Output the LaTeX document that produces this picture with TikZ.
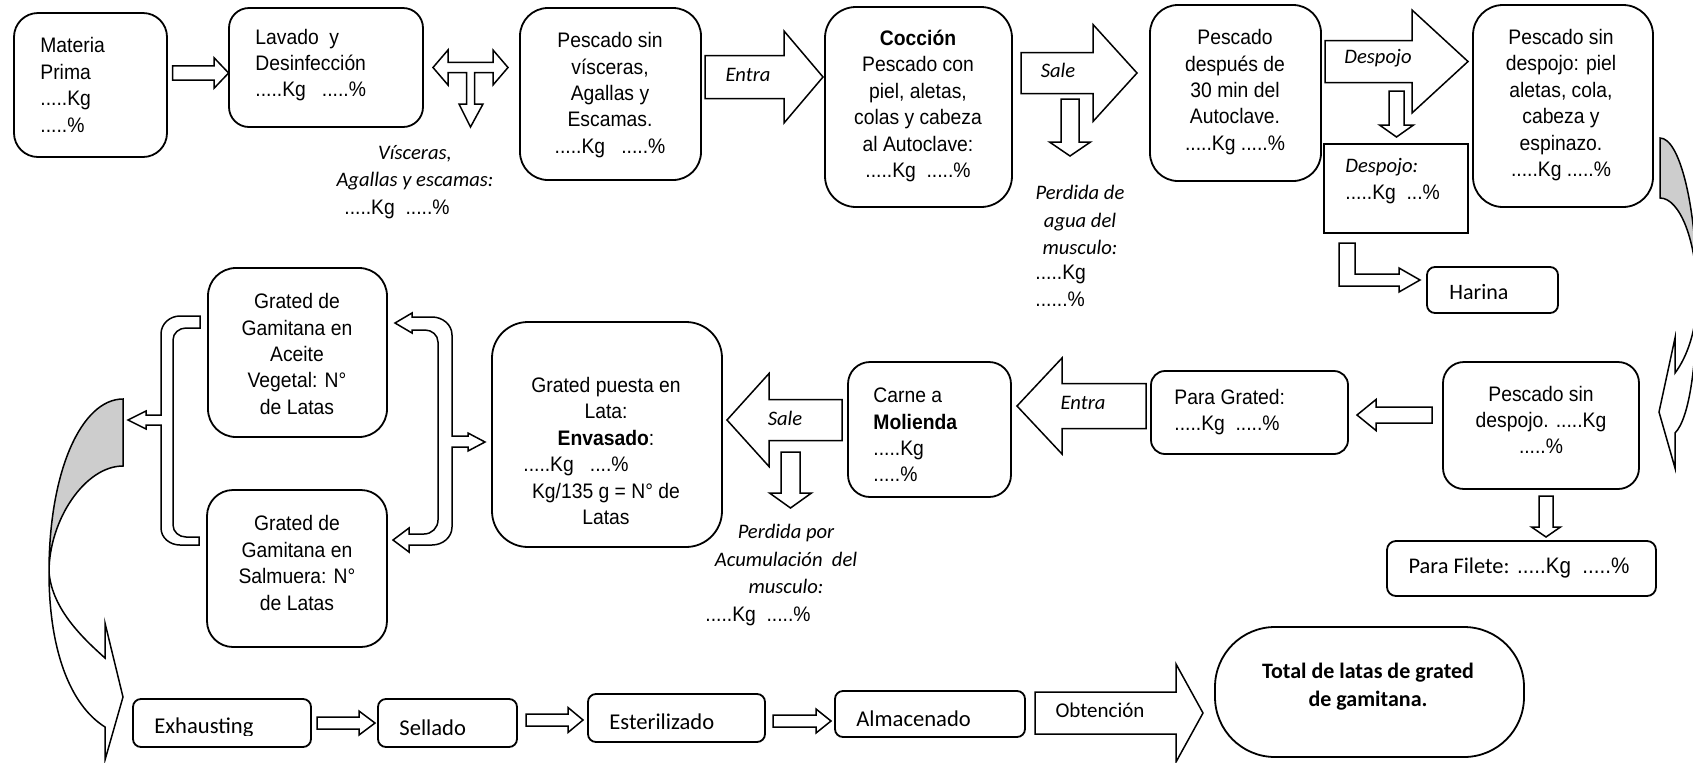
\documentclass[tikz,border=0pt]{standalone}
\usepackage{fontspec}
\setmainfont{Liberation Sans}[FakeStretch=0.92]
\newfontfamily\calib{Carlito}
\usetikzlibrary{fit}
\definecolor{shade}{RGB}{205,205,205}

% straight block arrows
% right: tail x, tip x, centre y, shaft half, head half, head length
\newcommand\arrR[6]{\draw[blk] (#1,#3-#4) -- (#2-#6,#3-#4) -- (#2-#6,#3-#5) -- (#2,#3) -- (#2-#6,#3+#5) -- (#2-#6,#3+#4) -- (#1,#3+#4) -- cycle;}
% left: tail x, tip x, centre y, shaft half, head half, head length
\newcommand\arrL[6]{\draw[blk] (#1,#3-#4) -- (#2+#6,#3-#4) -- (#2+#6,#3-#5) -- (#2,#3) -- (#2+#6,#3+#5) -- (#2+#6,#3+#4) -- (#1,#3+#4) -- cycle;}
% down: tail y, tip y, centre x, shaft half, head half, head length
\newcommand\arrD[6]{\draw[blk] (#3-#4,#1) -- (#3-#4,#2-#6) -- (#3-#5,#2-#6) -- (#3,#2) -- (#3+#5,#2-#6) -- (#3+#4,#2-#6) -- (#3+#4,#1) -- cycle;}
\newcommand\mainf{\rmfamily\upshape\fontsize{10.5}{13.7}\selectfont}

\begin{document}
\begin{tikzpicture}[x=0.5pt,y=-0.5pt,
  box/.style={draw, line width=0.9pt, inner sep=0pt, outer sep=0pt},
  rbox/.style={box, rounded corners=#1},
  blk/.style={draw, line width=0.75pt, fill=white, line join=miter},
  tx/.style={inner sep=0pt, align=center, font=\fontsize{10.5}{13.2}\selectfont},
  txl/.style={tx, align=left, anchor=west},
  it/.style={inner sep=0pt, align=center, font=\calib\itshape\fontsize{10.3}{13.7}\selectfont},
  cb/.style={inner sep=0pt, align=left, anchor=west, font=\calib\fontsize{11.3}{13.5}\selectfont}]
\useasboundingbox (0,0) rectangle (1693,762);

% ---------- boxes ----------
\node[rbox=12pt, fit={(14,13) (167,157)}] (mp) {};
\node[rbox=10pt, fit={(229,8) (423,127)}] (lav) {};
\node[rbox=14pt, fit={(520,8) (701,180)}] (psv) {};
\node[rbox=15.5pt, fit={(825,7) (1012,207)}] (coc) {};
\node[rbox=14pt, fit={(1150,5) (1321,181)}] (pda) {};
\node[box, fit={(1324,144) (1468,233)}] (desp) {};
\node[rbox=15pt, fit={(1473,5) (1653,207)}] (psd) {};
\node[rbox=4pt, fit={(1427,267) (1558,313)}] (har) {};
\node[rbox=14pt, fit={(208,268) (387,437)}] (gac) {};
\node[rbox=13pt, fit={(207,490) (387,647)}] (gsa) {};
\node[rbox=18pt, fit={(492,322) (722,547)}] (gpl) {};
\node[rbox=11pt, fit={(848,362) (1011,497)}] (car) {};
\node[rbox=7pt, fit={(1151,371) (1348,454)}] (pgr) {};
\node[rbox=10.5pt, fit={(1443,362) (1639,489)}] (psd2) {};
\node[rbox=4.5pt, fit={(1387,541) (1656,596)}] (pfi) {};
\node[rbox=4pt, fit={(133,699) (311,747)}] (exh) {};
\node[rbox=4pt, fit={(378,699) (517,747)}] (sel) {};
\node[rbox=4pt, fit={(588,694) (765,742)}] (est) {};
\node[rbox=4pt, fit={(835,691) (1025,737)}] (alm) {};
\node[rbox=30pt, fit={(1215,627) (1524,757)}] (tot) {};

% ---------- box texts ----------
\node[txl] (mp-t) at (40,85) {Materia\\Prima\\.....Kg\\.....\%};
\node[txl] (lav-t) at (255,65) {Lavado\ \ y\\Desinfección\\.....Kg\ \ \ .....\%};
\node[tx] (psv-t) at (610,95) {Pescado sin\\vísceras,\\Agallas y\\Escamas.\\.....Kg\ \ \ .....\%};
\node[tx] (coc-t) at (918,106) {\textbf{Cocción}\\Pescado con\\piel, aletas,\\colas y cabeza\\al Autoclave:\\.....Kg\ \ .....\%};
\node[tx] (pda-t) at (1235,92) {Pescado\\después de\\30 min del\\Autoclave.\\.....Kg .....\%};
\node[txl] (desp-t) at (1345,181) {{\calib\itshape\fontsize{10.3}{13}\selectfont Despojo:}\\.....Kg\ \ ...\%};
\node[tx] (psd-t) at (1561,105) {Pescado sin\\despojo: piel\\aletas, cola,\\cabeza y\\espinazo.\\.....Kg .....\%};
\node[inner sep=0pt, font=\calib\fontsize{11}{13}\selectfont] (har-t) at (1479,292) {Harina};
\node[tx] (gac-t) at (297,354) {Grated de\\Gamitana en\\Aceite\\Vegetal: N°\\de Latas};
\node[tx] (gsa-t) at (297,563) {Grated de\\Gamitana en\\Salmuera: N°\\de Latas};
\node[tx] (gpl-t) at (606,451) {Grated puesta en\\Lata:\\\textbf{Envasado}:\\\hspace*{-30pt}.....Kg\ \ \ ....\%\\Kg/135 g = N° de\\Latas};
\node[txl] (car-t) at (873,435) {Carne a\\\textbf{Molienda}\\.....Kg\\.....\%};
\node[txl] (pgr-t) at (1174,412) {Para Grated:\\.....Kg\ \ .....\%};
\node[tx] (psd2-t) at (1541,420) {Pescado sin\\despojo. .....Kg\\.....\%};
\node[inner sep=0pt, font=\fontsize{11.2}{13}\selectfont] (pfi-t) at (1519,568) {{\calib Para Filete:} .....Kg\ \ .....\%};
\begin{scope}
  \clip (133,699) rectangle (311,735);
  \node[cb] (exh-t) at (154,728) {Exhausting};
\end{scope}
\node[cb] (sel-t) at (399,728) {Sellado};
\node[cb] (est-t) at (609,722) {Esterilizado};
\node[cb] (alm-t) at (856,719) {Almacenado};
\node[inner sep=0pt, align=center, font=\calib\bfseries\fontsize{11}{14}\selectfont] (tot-t) at (1368,687) {Total de latas de grated\\de gamitana.};

% ---------- straight block arrows ----------
\arrR{172.5}{228.6}{73}{7.2}{15.3}{14.6}
\arrR{705}{823}{77}{21.5}{46}{39}
\arrR{1021}{1137}{73}{20.5}{48.5}{44}
\arrR{1325}{1468}{61.5}{21}{51.5}{56}
\arrL{1146}{1017}{406}{22.5}{48}{45}
\arrL{842}{727}{420}{20.5}{46.5}{42}
\arrL{1432}{1357}{415}{8}{15.5}{19}
\arrR{317}{375}{723}{6}{12}{16}
\arrR{526}{583}{720}{6}{12.5}{15}
\arrR{773}{831}{721}{6}{12}{15}
\arrR{1035}{1203}{713}{21}{49}{27}
\arrD{99}{156}{1070}{9}{20.5}{14}
\arrD{91}{137}{1396.5}{7.5}{17}{12}
\arrD{452}{508}{790.5}{9.5}{21}{15}
\arrD{496}{537}{1546}{7}{14.5}{10}

% three-way arrow after washing
\draw[blk] (433,67.5) -- (448,50) -- (448,62.3) -- (493,62.3) -- (493,50) -- (508,67.5)
  -- (493,85) -- (493,72.7) -- (474.5,72.7) -- (474.5,104) -- (483,104) -- (470.5,127)
  -- (459,104) -- (466.5,104) -- (466.5,72.7) -- (448,72.7) -- (448,85) -- cycle;

% bent arrow towards Harina
\draw[blk] (1339,243) -- (1339,286) -- (1399,286) -- (1399,292) -- (1420,280) -- (1399,268)
  -- (1399,274) -- (1355,274) -- (1355,243) -- cycle;

% bracket on the left of the two can types
\draw[blk] (200,316) -- (180,316) to[out=180,in=90] (161,334) -- (161,415) -- (146,415)
  -- (146,411) -- (128,420) -- (146,429) -- (146,425) -- (161,425) -- (161,528)
  to[out=-90,in=180] (180,545) -- (199,545) -- (199,537) -- (186,537)
  to[out=180,in=-90] (173,525) -- (173,340) to[out=90,in=180] (186,328) -- (200,328) -- cycle;

% bracket on the right of the two can types
\draw[blk] (395,323) -- (412,313) -- (412,317) -- (432,317) to[out=0,in=90] (452,335)
  -- (452,436) -- (468,436) -- (468,433) -- (485,442) -- (468,451) -- (468,447) -- (452,447)
  -- (452,527) to[out=-90,in=0] (432,545) -- (409,545) -- (409,552) -- (393,540) -- (409,528)
  -- (409,534) -- (424,534) to[out=0,in=-90] (438,520) -- (438,342) to[out=90,in=0] (425,330)
  -- (412,330) -- (412,333) -- cycle;

% curved arrow, left side
\coordinate (lT1) at (123,399); \coordinate (lT2) at (123,466); \coordinate (lL) at (49,572);
\filldraw[blk, fill=shade] (lT1) .. controls (82,399) and (49,470) .. (lL)
  .. controls (49,520) and (85,466) .. (lT2) -- cycle;
\draw[blk] (lL) .. controls (52,610) and (85,640) .. (105,658) -- (105,623) -- (123,697)
  -- (105,760) -- (105,727) .. controls (70,705) and (49,650) .. (lL) -- cycle;

% curved arrow, right side
\begin{scope}
  \clip (0,0) rectangle (1693,762);
  \coordinate (rT1) at (1660,138); \coordinate (rT2) at (1660,198); \coordinate (rL) at (1697,295);
  \filldraw[blk, fill=shade] (rT1) .. controls (1680,138) and (1697,208) .. (rL)
    .. controls (1697,242) and (1680,198) .. (rT2) -- cycle;
  \draw[blk] (rL) .. controls (1697,330) and (1687,357) .. (1675,373) -- (1675,338) -- (1659,412)
    -- (1675,468) -- (1675,433) .. controls (1690,418) and (1697,360) .. (rL) -- cycle;
\end{scope}

% ---------- arrow and side labels ----------
\node[it] (l-entra1) at (748,75) {Entra};
\node[it] (l-sale1) at (1058,70) {Sale};
\node[it] (l-desp) at (1378,58) {Despojo};
\node[it] (l-entra2) at (1083,403) {Entra};
\node[it] (l-sale2) at (785,418) {Sale};
\node[inner sep=0pt, font=\calib\fontsize{10.5}{13}\selectfont] (l-obt) at (1100,710) {Obtención};
\node[it] (l-visc) at (415,182) {Vísceras,\\Agallas y escamas:\\{\mainf\hspace*{-18pt}.....Kg\ \ .....\%}};
\node[it] (l-agua) at (1080,220) {Perdida de\\agua del\\musculo:};
\node[txl] (l-agua-kg) at (1035,286) {.....Kg\\......\%};
\node[it] (l-acum) at (786,559) {Perdida por\\Acumulación\ \ del\\musculo:};
\node[tx] (l-acum-kg) at (758,616) {.....Kg\ \ .....\%};
\end{tikzpicture}
\end{document}
